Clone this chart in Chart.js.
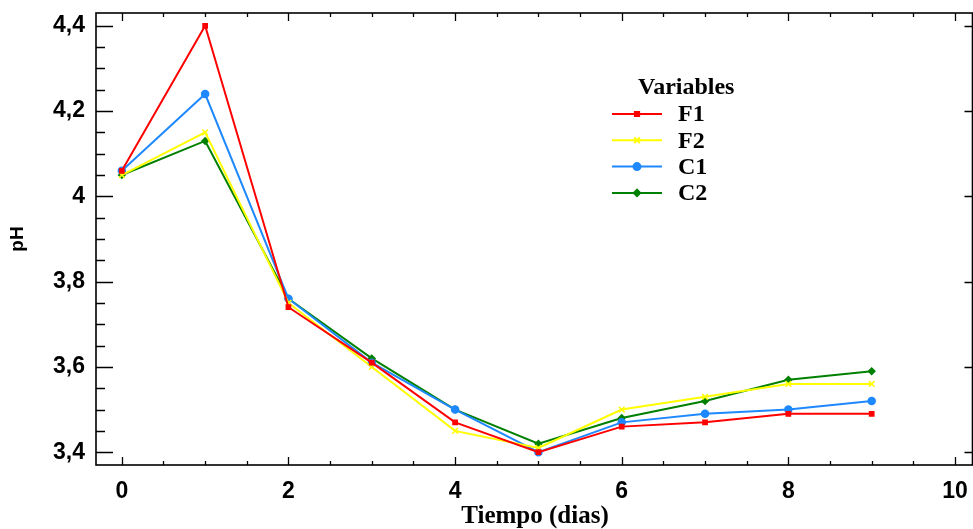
<!DOCTYPE html>
<html>
<head>
<meta charset="utf-8">
<script src="https://cdn.jsdelivr.net/npm/chart.js@4/dist/chart.umd.min.js"></script>
<style>
  html, body { margin: 0; padding: 0; background: #fff; overflow: hidden; }
  #wrap { width: 973px; height: 529px; overflow: hidden; }
</style>
</head>
<body>
<div id="wrap"><canvas id="ph-chart" width="978" height="529"></canvas></div>
<script>
// datos
var days = [0, 1, 2, 3, 4, 5, 6, 7, 8, 9];
var f1 = [4.06, 4.40, 3.74, 3.61, 3.47, 3.40, 3.46, 3.47, 3.49, 3.49];
var f2 = [4.05, 4.15, 3.75, 3.60, 3.45, 3.41, 3.50, 3.53, 3.56, 3.56];
var c1 = [4.06, 4.24, 3.76, 3.61, 3.50, 3.40, 3.47, 3.49, 3.50, 3.52];
var c2 = [4.05, 4.13, 3.76, 3.62, 3.50, 3.42, 3.48, 3.52, 3.57, 3.59];
var seriesNames = ['F1', 'F2', 'C1', 'C2'];
var xTicks = [0, 2, 4, 6, 8, 10];
var yTicks = [3.4, 3.6, 3.8, 4.0, 4.2, 4.4];
var xMinor = [0, 0.5, 1, 1.5, 2, 2.5, 3, 3.5, 4, 4.5, 5, 5.5, 6, 6.5, 7, 7.5, 8, 8.5, 9, 9.5, 10];
var yMinor = [3.4, 3.45, 3.5, 3.55, 3.6, 3.65, 3.7, 3.75, 3.8, 3.85, 3.9, 3.95, 4.0, 4.05, 4.1, 4.15, 4.2, 4.25, 4.3, 4.35, 4.4];

function toPoints(vals) {
  return vals.map(function (v, i) { return { x: days[i], y: v }; });
}

var styles = [
  { color: '#ff0000', point: 'rect', radius: 3 },
  { color: '#ffff00', point: 'crossRot', radius: 4 },
  { color: '#1e88ff', point: 'circle', radius: 3.5 },
  { color: '#008000', point: 'rectRot', radius: 3.2 }
];
var allSeries = [f1, f2, c1, c2];

var datasets = allSeries.map(function (vals, i) {
  var s = styles[i];
  return {
    label: seriesNames[i],
    data: toPoints(vals),
    borderColor: s.color,
    backgroundColor: s.color,
    borderWidth: 2,
    pointStyle: s.point,
    pointRadius: s.radius,
    pointBorderWidth: 1.5,
    pointBorderColor: s.color,
    pointBackgroundColor: s.color,
    tension: 0,
    fill: false
  };
});

var serif = '"Liberation Serif", "Times New Roman", serif';
var sans = '"Liberation Sans", Arial, sans-serif';

// marco, ticks hacia dentro, titulos y leyenda
var framePlugin = {
  id: 'frame',
  afterDraw: function (chart) {
    var ctx = chart.ctx;
    var a = chart.chartArea;
    var xs = chart.scales.x, ys = chart.scales.y;
    ctx.save();
    ctx.strokeStyle = '#000';
    ctx.lineWidth = 1.6;
    ctx.strokeRect(a.left, a.top, a.right - a.left, a.bottom - a.top);
    ctx.lineWidth = 1.3;
    ctx.beginPath();
    xMinor.forEach(function (v) {
      var px = Math.round(xs.getPixelForValue(v)) + 0.5;
      var major = xTicks.indexOf(v) >= 0;
      var lb = major ? 8 : 4;
      ctx.moveTo(px, a.bottom); ctx.lineTo(px, a.bottom - lb);
      ctx.moveTo(px, a.top); ctx.lineTo(px, a.top + lb);
    });
    yMinor.forEach(function (v) {
      var py = Math.round(ys.getPixelForValue(v)) + 0.5;
      var major = yTicks.some(function (t) { return Math.abs(t - v) < 1e-6; });
      var ll = major ? 17 : 9;
      ctx.moveTo(a.left, py); ctx.lineTo(a.left + ll, py);
      if (major) { ctx.moveTo(a.right, py); ctx.lineTo(a.right - 8, py); }
    });
    ctx.stroke();

    // titulos de ejes
    ctx.fillStyle = '#000';
    ctx.textAlign = 'center';
    ctx.textBaseline = 'middle';
    ctx.font = 'bold 25px ' + serif;
    ctx.fillText('Tiempo (dias)', 535, 517);
    ctx.save();
    ctx.translate(18, (a.top + a.bottom) / 2);
    ctx.rotate(-Math.PI / 2);
    ctx.font = 'bold 19px ' + sans;
    ctx.fillText('pH', 0, 0);
    ctx.restore();

    // leyenda
    var lx = 612, ly = 114, step = 26.3;
    ctx.font = 'bold 24px ' + serif;
    ctx.textAlign = 'left';
    ctx.fillText('Variables', 638, 88);
    chart.data.datasets.forEach(function (ds, i) {
      var y = ly + i * step;
      ctx.strokeStyle = ds.borderColor;
      ctx.lineWidth = 2;
      ctx.beginPath();
      ctx.moveTo(lx, y); ctx.lineTo(lx + 50, y);
      ctx.stroke();
      ctx.fillStyle = ds.borderColor;
      Chart.helpers.drawPoint(ctx, {
        pointStyle: ds.pointStyle, radius: ds.pointRadius, borderWidth: 1.5, rotation: 0
      }, lx + 25, y);
      ctx.fillStyle = '#000';
      ctx.fillText(ds.label, 678, y + 1);
    });
    ctx.restore();
  }
};

var tickFont = { family: sans, size: 23, weight: 'bold' };

new Chart(document.getElementById('ph-chart'), {
  type: 'line',
  data: { datasets: datasets },
  options: {
    responsive: false,
    animation: false,
    layout: { padding: { top: 13, right: 0, left: 0, bottom: 0 } },
    plugins: { legend: { display: false }, tooltip: { enabled: false } },
    scales: {
      x: {
        type: 'linear',
        min: -0.31,
        max: 10.21,
        afterBuildTicks: function (scale) {
          scale.ticks = xTicks.map(function (v) { return { value: v }; });
        },
        afterFit: function (scale) {
          scale.height = 64;
          scale.paddingLeft = 0;
          scale.paddingRight = 0;
        },
        grid: { display: false, drawTicks: false },
        border: { display: false },
        ticks: {
          font: tickFont, color: '#000', padding: 13, maxRotation: 0, autoSkip: false,
          callback: function (v) { return String(v); }
        }
      },
      y: {
        type: 'linear',
        min: 3.37,
        max: 4.43,
        afterBuildTicks: function (scale) {
          scale.ticks = yTicks.map(function (v) { return { value: v }; });
        },
        afterFit: function (scale) {
          scale.width = 96;
          scale.paddingTop = 0;
          scale.paddingBottom = 0;
        },
        grid: { display: false, drawTicks: false },
        border: { display: false },
        ticks: {
          font: tickFont, color: '#000', padding: 11, autoSkip: false,
          callback: function (v) {
            return (Math.round(v * 10) / 10).toString().replace('.', ',');
          }
        }
      }
    }
  },
  plugins: [framePlugin]
});
</script>
</body>
</html>
